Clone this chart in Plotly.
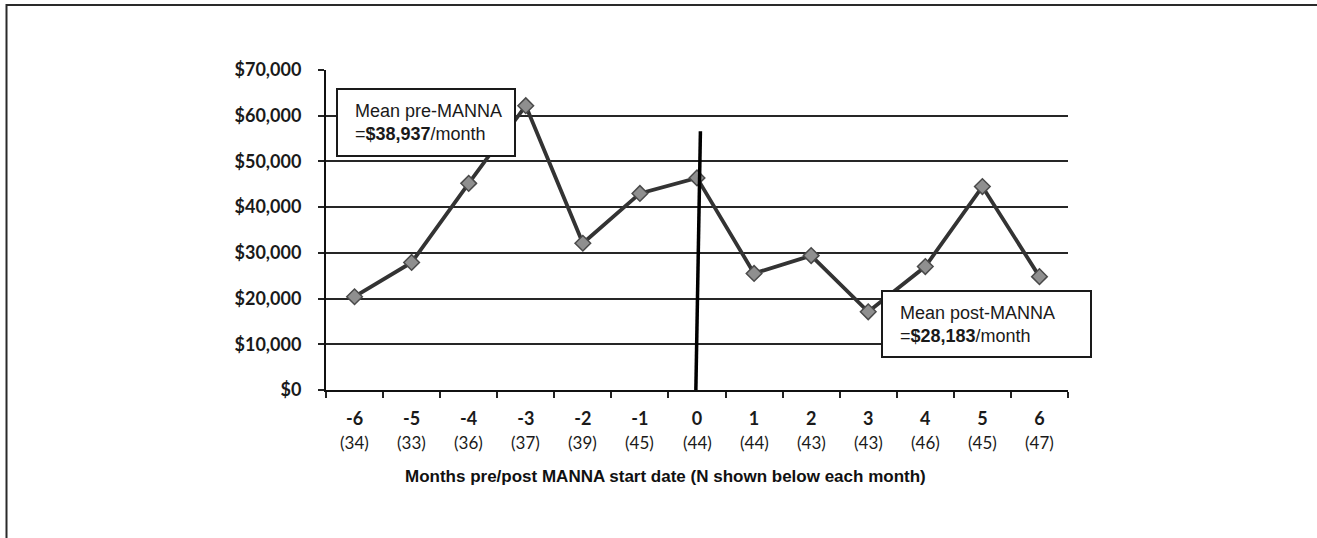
import plotly.graph_objects as go

# ---- data ----
months = ["-6", "-5", "-4", "-3", "-2", "-1", "0", "1", "2", "3", "4", "5", "6"]
n_per_month = [34, 33, 36, 37, 39, 45, 44, 44, 43, 43, 46, 45, 47]
cost = [20400, 27900, 45200, 62200, 32100, 43000, 46400,
        25500, 29400, 17100, 27000, 44500, 24800]
y_ticks = [0, 10000, 20000, 30000, 40000, 50000, 60000, 70000]
start_month = "0"
start_line_top = 56600
pre_text = "Mean pre-MANNA<br>=<b>$38,937</b>/month"
post_text = "Mean post-MANNA<br>=<b>$28,183</b>/month"
x_title = "Months pre/post MANNA start date (N shown below each month)"

# ---- layout geometry (pixels) ----
W, H = 1317, 538
L, R, T, B = 326, 1068, 70, 390
pw, ph = R - L, B - T


def px(xp):
    return (xp - L) / pw


def py(yp):
    return (B - yp) / ph


tick_font = dict(family="Lato, Liberation Sans, Arial", size=18, color="#1a1a1a")
start_idx = months.index(start_month)

fig = go.Figure()
fig.add_trace(go.Scatter(
    x=months, y=cost, mode="lines+markers",
    line=dict(color="#333333", width=3.8),
    marker=dict(symbol="diamond", size=12, color="#8f8f8f",
                line=dict(color="#4a4a4a", width=1.5)),
    showlegend=False, hoverinfo="x+y",
))

shapes = [
    # vertical start line
    dict(type="line", xref="x", yref="y", x0=start_idx - 0.02, x1=start_idx + 0.06,
         y0=0, y1=start_line_top, line=dict(color="#000000", width=3.5)),
    # page frame (top and left)
    dict(type="line", xref="paper", yref="paper", x0=px(6), x1=px(W + 5),
         y0=py(5), y1=py(5), line=dict(color="#2a2a2a", width=2)),
    dict(type="line", xref="paper", yref="paper", x0=px(6.5), x1=px(6.5),
         y0=py(4), y1=py(H + 5), line=dict(color="#2a2a2a", width=2)),
    # mean boxes
    dict(type="rect", xref="paper", yref="paper", x0=px(337), x1=px(515),
         y0=py(156), y1=py(89), line=dict(color="#1a1a1a", width=2),
         fillcolor="#ffffff", layer="above"),
    dict(type="rect", xref="paper", yref="paper", x0=px(882), x1=px(1091),
         y0=py(357), y1=py(291), line=dict(color="#1a1a1a", width=2),
         fillcolor="#ffffff", layer="above"),
]

annotations = []
# N row under month labels
for i, n in enumerate(n_per_month):
    annotations.append(dict(
        x=i, xref="x", y=py(442), yref="paper", text="(%d)" % n,
        showarrow=False, xanchor="center", yanchor="middle",
        font=dict(family="Lato, Liberation Sans, Arial", size=17, color="#1a1a1a"),
    ))
# axis title
annotations.append(dict(
    x=px(665), xref="paper", y=py(476), yref="paper", text="<b>%s</b>" % x_title,
    showarrow=False, xanchor="center", yanchor="middle",
    font=dict(family="Liberation Sans, Arial", size=17, color="#111111"),
))
# mean box texts
box_font = dict(family="Liberation Sans, Arial", size=18, color="#1a1a1a")
annotations.append(dict(
    x=px(353), xref="paper", y=py(122.5), yref="paper", text=pre_text,
    showarrow=False, xanchor="left", yanchor="middle", align="left",
    font=box_font,
))
annotations.append(dict(
    x=px(898), xref="paper", y=py(324), yref="paper", text=post_text,
    showarrow=False, xanchor="left", yanchor="middle", align="left",
    font=box_font,
))

fig.update_layout(
    width=W, height=H, autosize=False,
    margin=dict(l=L, r=W - R, t=T, b=H - B, pad=0),
    paper_bgcolor="#ffffff", plot_bgcolor="#ffffff",
    shapes=shapes, annotations=annotations,
    xaxis=dict(
        type="category", categoryorder="array", categoryarray=months,
        tickmode="array", tickvals=months,
        ticktext=["<b>%s</b>" % m for m in months],
        tickson="boundaries", ticks="outside", ticklen=6, tickwidth=2,
        tickcolor="#222222", showline=True, linecolor="#111111", linewidth=2,
        showgrid=False, zeroline=False, tickfont=tick_font,
        ticklabelstandoff=11, range=[-0.5, len(months) - 0.5],
    ),
    yaxis=dict(
        range=[0, 70000], tickmode="array", tickvals=y_ticks,
        ticktext=["<b>${:,}</b>".format(v) for v in y_ticks],
        ticks="outside", ticklen=6, tickwidth=2, tickcolor="#222222",
        showline=True, linecolor="#111111", linewidth=2,
        showgrid=True, gridcolor="#262626", gridwidth=2.2, zeroline=False,
        tickfont=tick_font, ticklabelstandoff=13,
    ),
)

fig.write_html("out.html", config={"displayModeBar": False},
               post_script="document.body.style.margin='0';")
